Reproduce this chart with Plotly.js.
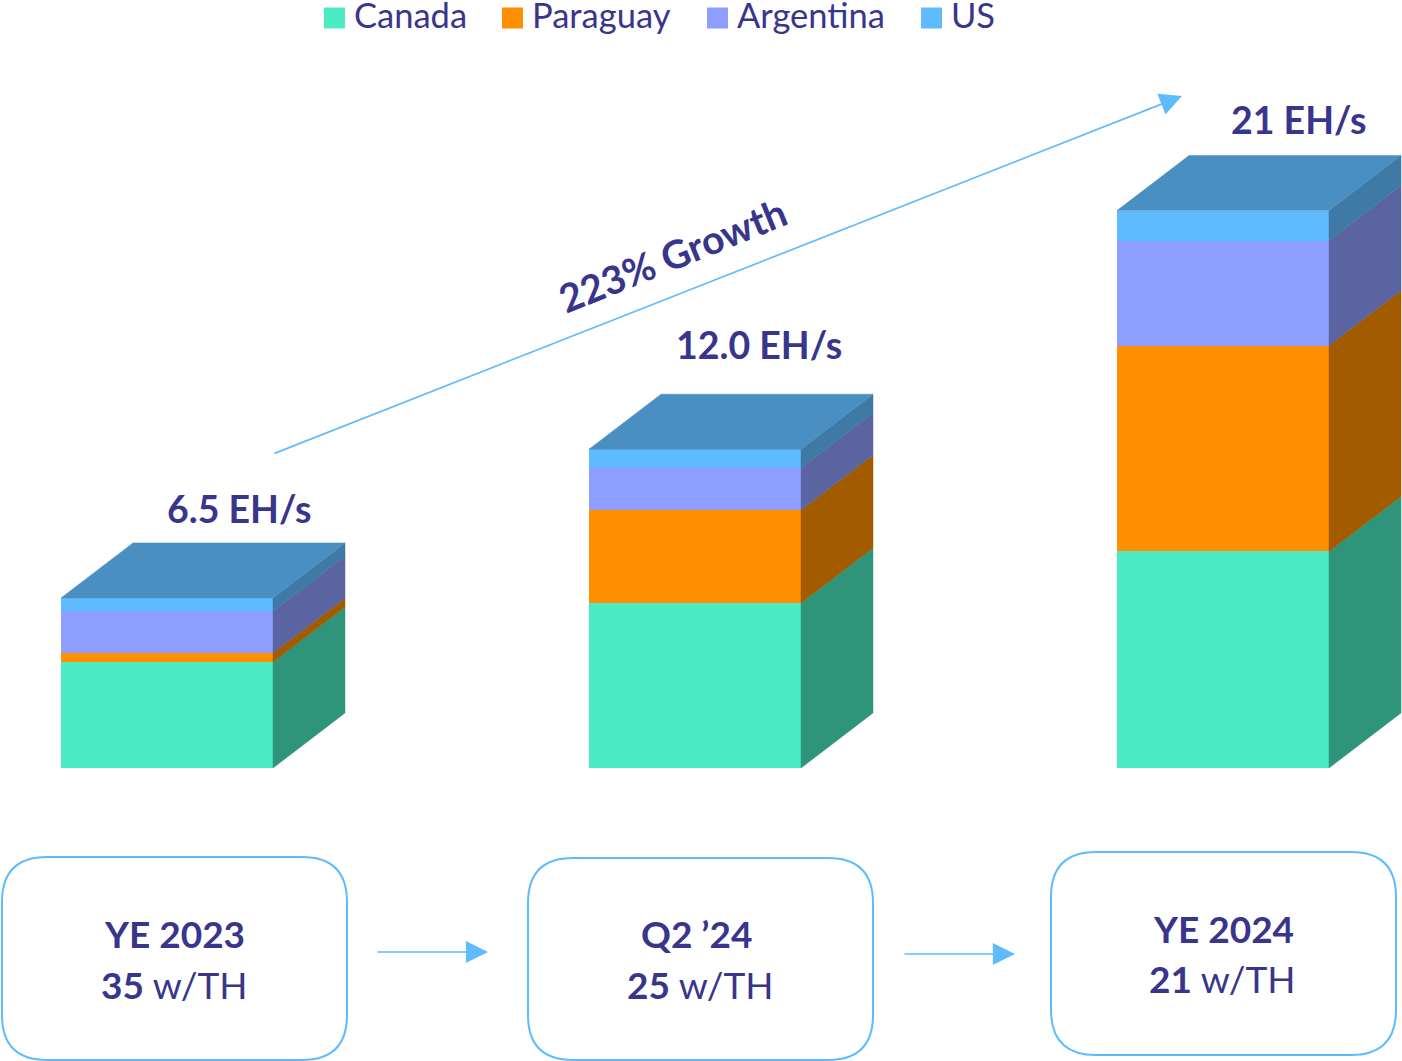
<!DOCTYPE html>
<html><head><meta charset="utf-8">
<script src="https://cdn.plot.ly/plotly-3.0.1.min.js"></script>
<style>html,body{margin:0;padding:0;background:#fff}#c{width:1402px;height:1061px}</style>
</head><body><div id="c"></div>
<script>
// ---- data ----
const periods = ['YE 2023', 'Q2 ’24', 'YE 2024'];
const efficiency = ['35', '25', '21'];
const totalLabels = ['6.5 EH/s', '12.0 EH/s', '21 EH/s'];
const seriesNames = ['Canada', 'Paraguay', 'Argentina', 'US'];
const canada = [3.99, 6.21, 8.15];
const paraguay = [0.34, 3.50, 7.75];
const argentina = [1.58, 1.58, 3.95];
const us = [0.49, 0.71, 1.13];
const growthLabel = '223% Growth';

// ---- styles & layout ----
const W = 1402, H = 1061;
const frontColors = ['#4DEBC4', '#FF8F00', '#8E9EFF', '#5FBBFF'];
const sideColors = ['#2E957B', '#A35B00', '#5A64A0', '#3F79A6'];
const topColor = '#4A8FC2';
const ink = '#38358C', lineCol = '#5FBBFF';
const FONT = 'Lato, "Open Sans", sans-serif';
const stepPx = 528, x0Px = 167, baseY = 768, pxPerUnit = 26.57;
const barWidth = 212 / stepPx, depthX = 72 / stepPx, depthY = 55 / pxPerUnit;
const values = [canada, paraguay, argentina, us];
const xs = periods.map((_, i) => i);
const px = p => p / W, py = p => 1 - p / H;

const traces = [];
// front faces
values.forEach((v, s) => traces.push({
  type: 'bar', x: xs, y: v, width: barWidth, name: seriesNames[s], showlegend: false,
  marker: {color: frontColors[s], line: {width: 0}},
  hovertemplate: seriesNames[s] + ': %{y} EH/s<extra></extra>'
}));
// side faces, one polygon per bar and series, built from the stacked values
const stack = xs.map(() => 0);
values.forEach((v, s) => {
  const X = [], Y = [];
  xs.forEach(i => {
    const r = i + barWidth / 2, lo = stack[i], hi = lo + v[i];
    X.push(r, r + depthX, r + depthX, r, r, null);
    Y.push(lo, lo + depthY, hi + depthY, hi, lo, null);
    stack[i] = hi;
  });
  traces.push({type: 'scatter', mode: 'lines', x: X, y: Y, fill: 'toself', fillcolor: sideColors[s],
    line: {color: sideColors[s], width: 0.5}, showlegend: false, hoverinfo: 'skip'});
});
// top faces
{
  const X = [], Y = [];
  xs.forEach(i => {
    const l = i - barWidth / 2, r = i + barWidth / 2, t = stack[i];
    X.push(l, r, r + depthX, l + depthX, l, null);
    Y.push(t, t, t + depthY, t + depthY, t, null);
  });
  traces.push({type: 'scatter', mode: 'lines', x: X, y: Y, fill: 'toself', fillcolor: topColor,
    line: {color: topColor, width: 0.5}, showlegend: false, hoverinfo: 'skip'});
}
// legend keys
const keyX = [324, 502, 707, 921], labelX = [351.5, 529.5, 735, 949];
seriesNames.forEach((n, s) => traces.push({
  type: 'scatter', mode: 'markers', name: n, showlegend: false, cliponaxis: false,
  x: [(keyX[s] + 10.5 - x0Px) / stepPx], y: [(baseY - 18) / pxPerUnit],
  marker: {symbol: 'square', size: 21, color: frontColors[s]}, hoverinfo: 'name'
}));

const ann = [];
const text = (t, x, y, size, extra) => ann.push(Object.assign({
  text: t, xref: 'paper', yref: 'paper', x: px(x), y: py(y), xanchor: 'center', yanchor: 'middle',
  showarrow: false, font: {family: FONT, size: size, color: ink}
}, extra || {}));
seriesNames.forEach((n, s) => text(n, labelX[s], 14.5, 34.5, {xanchor: 'left'}));
const totalX = [238.5, 758.5, 1298.5], totalY = [508.5, 344.5, 119.5];
totalLabels.forEach((t, i) => text('<b>' + t + '</b>', totalX[i], totalY[i], 37.5));
text('<b>' + growthLabel + '</b>', 672, 255, 39, {textangle: -22});
const boxes = [[2, 857, 347, 1060], [528, 858, 873, 1060], [1051, 852, 1396, 1055]];
const nameX = [174, 696, 1223], effX = [174, 700, 1222], nameY = [933.5, 933.5, 928.5], effY = [984.5, 984.5, 978.5];
periods.forEach((p, i) => {
  text('<b>' + p + '</b>', nameX[i], nameY[i], 37);
  text('<b>' + efficiency[i] + '</b> w/TH', effX[i], effY[i], 37);
});
const arrow = (x1, y1, x2, y2) => ann.push({
  xref: 'paper', yref: 'paper', x: px(x2), y: py(y2), axref: 'pixel', ayref: 'pixel',
  ax: x1 - x2, ay: y1 - y2, text: '', showarrow: true, arrowhead: 2, arrowsize: 2.6, arrowwidth: 1.7,
  arrowcolor: lineCol, standoff: 0, startstandoff: 0
});
arrow(273, 454, 1182, 96);
arrow(376, 952, 488, 952);
arrow(903, 954, 1015, 954);

const R = 45;
const shapes = boxes.map(([a, b, c, d]) => ({
  type: 'path', xref: 'paper', yref: 'paper', layer: 'below',
  path: `M${px(a + R)},${py(b)} L${px(c - R)},${py(b)} Q${px(c)},${py(b)} ${px(c)},${py(b + R)} ` +
        `L${px(c)},${py(d - R)} Q${px(c)},${py(d)} ${px(c - R)},${py(d)} L${px(a + R)},${py(d)} ` +
        `Q${px(a)},${py(d)} ${px(a)},${py(d - R)} L${px(a)},${py(b + R)} Q${px(a)},${py(b)} ${px(a + R)},${py(b)} Z`,
  line: {color: lineCol, width: 2}, fillcolor: '#fff'
}));

const axisOff = {visible: false, showgrid: false, zeroline: false, fixedrange: true};
Plotly.newPlot('c', traces, {
  width: W, height: H, margin: {l: 0, r: 0, t: 0, b: 0}, autosize: false,
  paper_bgcolor: '#fff', plot_bgcolor: 'rgba(0,0,0,0)', barmode: 'stack', showlegend: false,
  xaxis: Object.assign({range: [-x0Px / stepPx, (W - x0Px) / stepPx]}, axisOff),
  yaxis: Object.assign({range: [(baseY - H) / pxPerUnit, baseY / pxPerUnit]}, axisOff),
  annotations: ann, shapes: shapes
}, {displayModeBar: false, responsive: false});
</script></body></html>
